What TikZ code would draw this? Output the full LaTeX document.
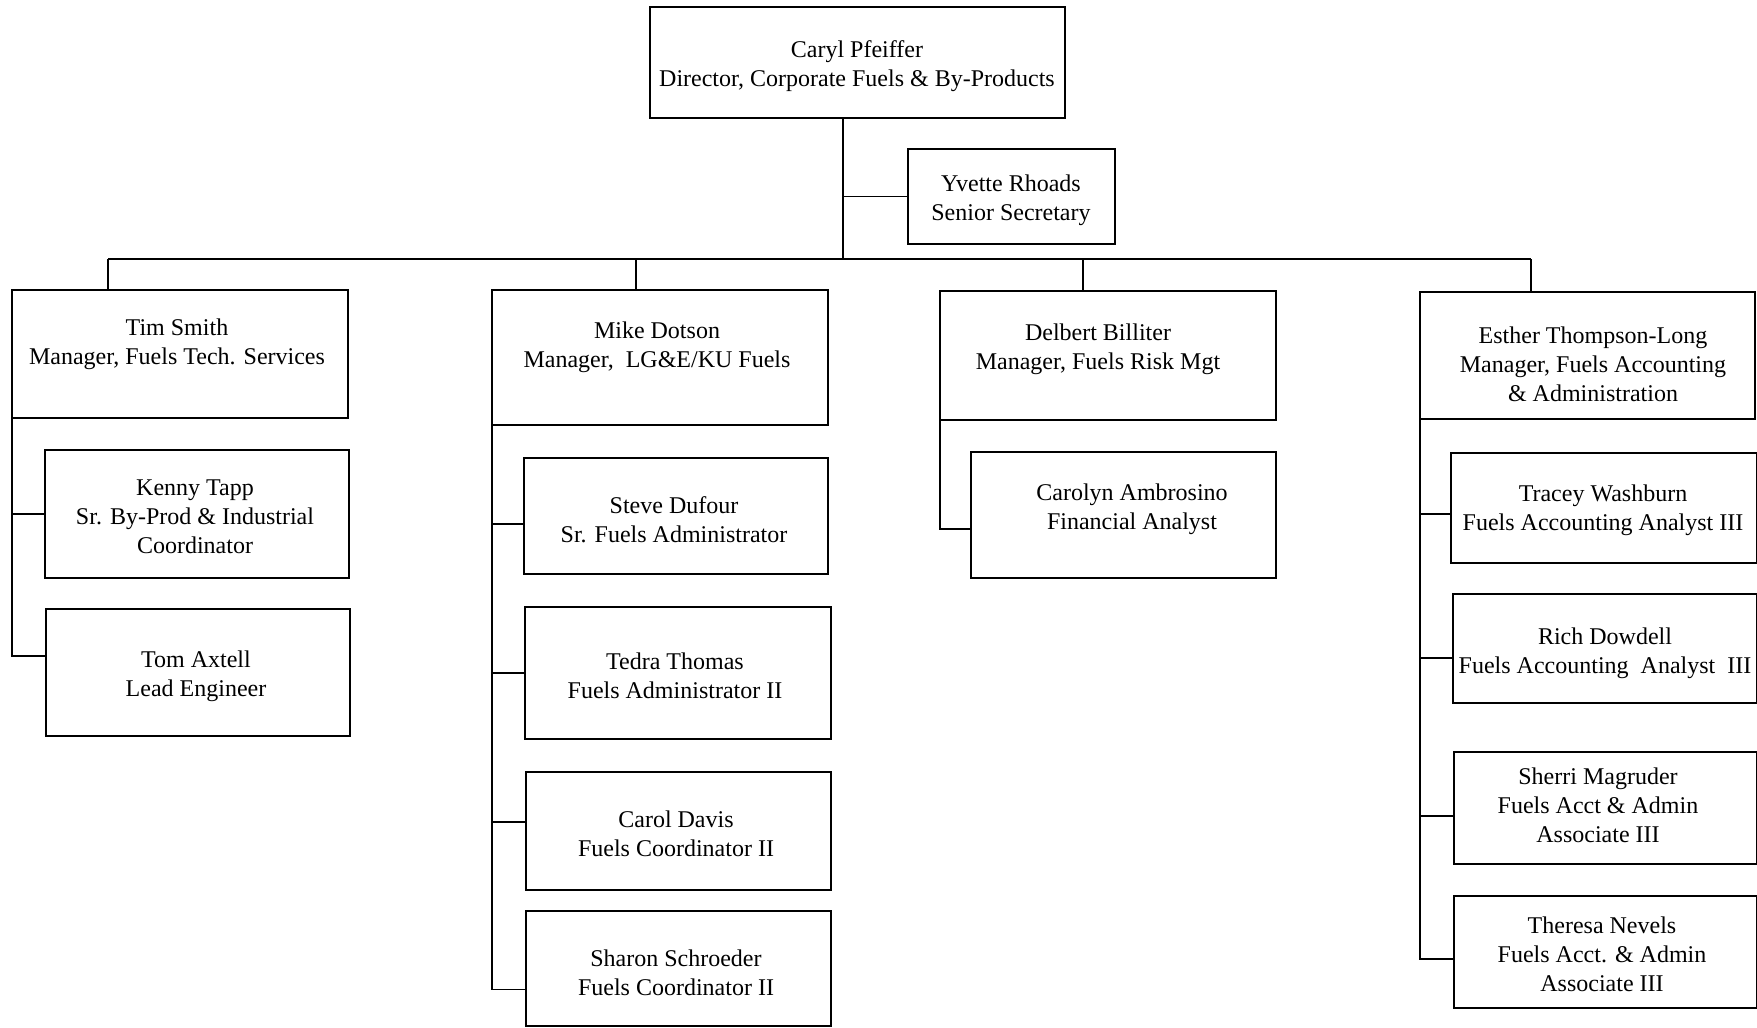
\documentclass[tikz,border=0pt]{standalone}
\usepackage{fontspec}
\setmainfont{Liberation Serif}
\usetikzlibrary{fit}
\begin{document}
\begin{tikzpicture}[x=0.5pt,y=-0.5pt,
  bx/.style={draw, line width=1pt, inner sep=0pt, rectangle},
  txt/.style={align=center, inner sep=0pt, font=\fontsize{12}{14.5}\selectfont},
  ln/.style={line width=0.75pt}]
\useasboundingbox[fill=white] (0,0) rectangle (1757,1028);
% boxes
\node[bx, fit={(650,7) (1065,118)}] (top) {};
\node[bx, fit={(908,149) (1115,244)}] (sec) {};
\node[bx, fit={(12,290) (348,418)}] (tim) {};
\node[bx, fit={(492,290) (828,425)}] (mike) {};
\node[bx, fit={(940,291) (1276,420)}] (del) {};
\node[bx, fit={(1420,292) (1755,419)}] (est) {};
\node[bx, fit={(45,450) (349,578)}] (kenny) {};
\node[bx, fit={(46,609) (350,736)}] (tom) {};
\node[bx, fit={(524,458) (828,574)}] (steve) {};
\node[bx, fit={(525,607) (831,739)}] (tedra) {};
\node[bx, fit={(526,772) (831,890)}] (carol) {};
\node[bx, fit={(526,911) (831,1026)}] (sharon) {};
\node[bx, fit={(971,452) (1276,578)}] (carolyn) {};
\node[bx, fit={(1451,453) (1757,563)}] (tracey) {};
\node[bx, fit={(1453,594) (1757,703)}] (rich) {};
\node[bx, fit={(1454,752) (1757,864)}] (sherri) {};
\node[bx, fit={(1454,896) (1757,1008)}] (theresa) {};
% texts
\node[txt] (top-t) at (857,66) {Caryl Pfeiffer\\Director, Corporate Fuels \& By-Products};
\node[txt] (sec-t) at (1011,200) {Yvette Rhoads\\Senior Secretary};
\node[txt] (tim-t) at (177,344) {Tim Smith\\Manager, Fuels Tech. Services};
\node[txt] (mike-t) at (657,347) {Mike Dotson\\Manager,\ \ LG\&E/KU Fuels};
\node[txt] (del-t) at (1098,349) {Delbert Billiter\\Manager, Fuels Risk Mgt};
\node[txt] (est-t) at (1593,364) {Esther Thompson-Long\\Manager, Fuels Accounting\\\& Administration};
\node[txt] (kenny-t) at (195,517) {Kenny Tapp\\Sr. By-Prod \& Industrial\\Coordinator};
\node[txt] (tom-t) at (196,676) {Tom Axtell\\Lead Engineer};
\node[txt] (steve-t) at (674,520) {Steve Dufour\\Sr. Fuels Administrator};
\node[txt] (tedra-t) at (675,676) {Tedra Thomas\\Fuels Administrator II};
\node[txt] (carol-t) at (676,834) {Carol Davis\\Fuels Coordinator II};
\node[txt] (sharon-t) at (676,973) {Sharon Schroeder\\Fuels Coordinator II};
\node[txt] (carolyn-t) at (1132,509) {Carolyn Ambrosino\\Financial Analyst};
\node[txt] (tracey-t) at (1603,510) {Tracey Washburn\\Fuels Accounting Analyst III};
\node[txt] (rich-t) at (1605,653) {Rich Dowdell\\Fuels Accounting\ \ Analyst\ \ III};
\node[txt] (sherri-t) at (1598,805) {Sherri Magruder\\Fuels Acct \& Admin\\Associate III};
\node[txt] (theresa-t) at (1602,954) {Theresa Nevels\\Fuels Acct. \& Admin\\Associate III};
% junction coordinates
\coordinate (j0) at (843,259);
\coordinate (d1) at (108,259);
\coordinate (d2) at (636,259);
\coordinate (d3) at (1083,259);
\coordinate (d4) at (1531,259);
% connection points on the left of the boxes
\coordinate (kennyc) at (kenny.west);
\coordinate (tomc) at ([yshift=8.25pt]tom.west);
\coordinate (stevec) at ([yshift=-4pt]steve.west);
\coordinate (tedrac) at (tedra.west);
\coordinate (carolc) at ([yshift=4.5pt]carol.west);
\coordinate (sharonc) at ([yshift=-10.5pt]sharon.west);
\coordinate (carolync) at ([yshift=-7pt]carolyn.west);
\coordinate (traceyc) at ([yshift=-3pt]tracey.west);
\coordinate (richc) at ([yshift=-4.75pt]rich.west);
\coordinate (sherric) at ([yshift=-4pt]sherri.west);
\coordinate (theresac) at ([yshift=-3.5pt]theresa.west);
% spines along the managers' left edges
\coordinate (tims) at ([xshift=0.5pt]tim.south west);
\coordinate (mikes) at ([xshift=0.5pt]mike.south west);
\coordinate (dels) at ([xshift=0.5pt]del.south west);
\coordinate (ests) at ([xshift=0.5pt]est.south west);
% connectors
\draw[ln] (top.south -| j0) -- (j0);
\draw[ln] (sec.west) -- (sec.west -| j0);
\draw[ln] (d1) -- (d4);
\draw[ln] (d1) -- (d1 |- tim.north);
\draw[ln] (d2) -- (d2 |- mike.north);
\draw[ln] (d3) -- (d3 |- del.north);
\draw[ln] (d4) -- (d4 |- est.north);
% Tim
\draw[ln] (tims) -- (tims |- tomc) -- (tomc);
\draw[ln] (tims |- kennyc) -- (kennyc);
% Mike
\draw[ln] (mikes) -- (mikes |- sharonc) -- (sharonc);
\draw[ln] (mikes |- stevec) -- (stevec);
\draw[ln] (mikes |- tedrac) -- (tedrac);
\draw[ln] (mikes |- carolc) -- (carolc);
% Delbert
\draw[ln] (dels) -- (dels |- carolync) -- (carolync);
% Esther
\draw[ln] (ests) -- (ests |- theresac) -- (theresac);
\draw[ln] (ests |- traceyc) -- (traceyc);
\draw[ln] (ests |- richc) -- (richc);
\draw[ln] (ests |- sherric) -- (sherric);
\end{tikzpicture}
\end{document}
